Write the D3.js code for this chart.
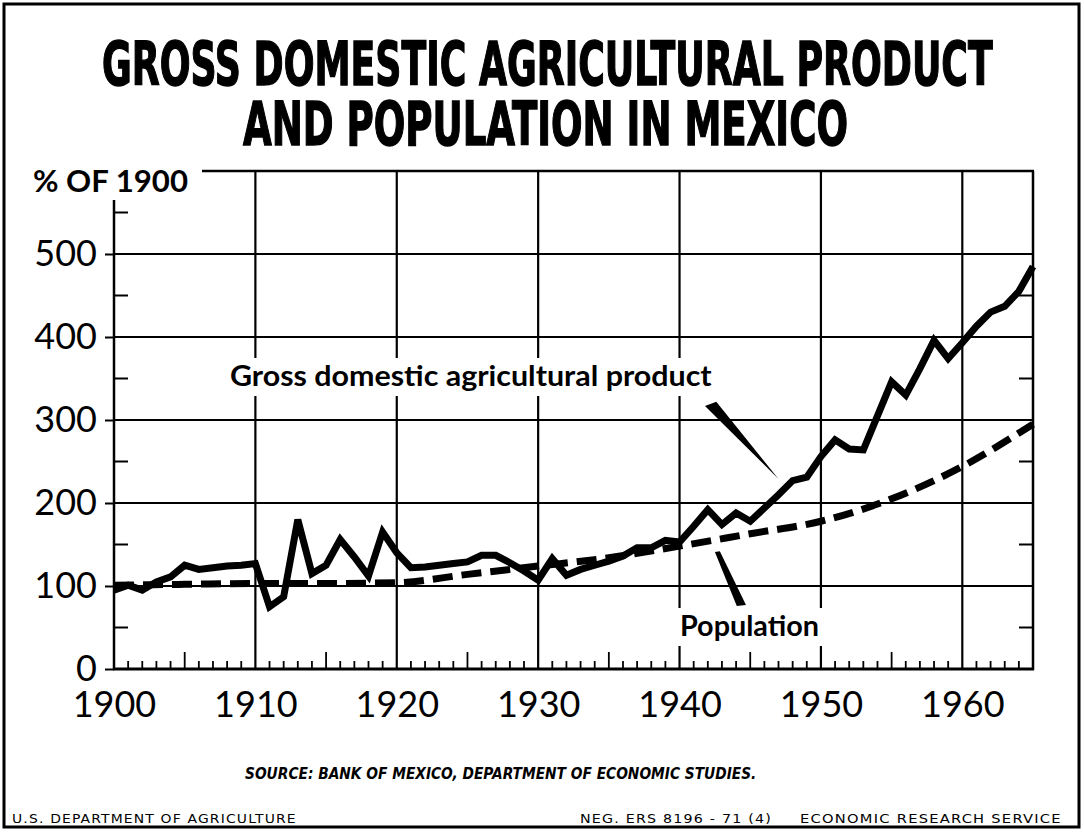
<!DOCTYPE html>
<html>
<head>
<meta charset="utf-8">
<script src="https://cdn.jsdelivr.net/npm/d3@7"></script>
<style>
  body { margin: 0; background: #fff; }
  svg { display: block; }
  text { fill: #000; }
</style>
</head>
<body>
<svg id="chart" width="1084" height="835"></svg>
<script>
// values, % of 1900
const gdpYears = d3.range(1900, 1966)
const gdp = [
  95, 101, 95, 105, 111, 125, 120, 122, 124, 125,
  127, 75, 87, 180, 115, 125, 156, 135, 112, 165,
  140, 122, 123, 125, 127, 129, 137, 137, 128, 118,
  107, 133, 113, 120, 125, 130, 136, 146, 146, 155,
  153, 172, 192, 174, 188, 178, 194, 210, 227, 231,
  256, 276, 265, 264, 305, 346, 330, 362, 396, 374,
  393, 413, 430, 437, 455, 485
]
const popYears = [1900, 1905, 1910, 1915, 1920, 1925, 1930, 1935, 1940, 1945, 1950, 1955, 1960, 1965]
const population = [101, 102, 103, 103, 104, 114, 124, 134, 148, 163, 178, 205, 244, 295]

const yTicks = [0, 100, 200, 300, 400, 500]
const yMinor = [50, 150, 250, 350, 450, 550]
const xTicks = [1900, 1910, 1920, 1930, 1940, 1950, 1960]

const svg = d3.select('#chart')
const width = 1084, height = 835
const font = 'Lato, "Open Sans", sans-serif'
const narrow = '"Liberation Sans Narrow", "DejaVu Sans Condensed", "Roboto Condensed", sans-serif'

const x = d3.scaleLinear().domain([1900, 1965]).range([114, 1033])
const y = d3.scaleLinear().domain([0, 600]).range([669, 171])

// squeeze a text to a given width by scaling it horizontally
function fitText(sel) {
  sel.each(function (d) {
    const len = this.getComputedTextLength()
    d3.select(this)
      .attr('x', 0).attr('y', 0)
      .attr('transform', `translate(${d.x},${d.base}) scale(${d.w / len},1)`)
  })
}

svg.append('rect').attr('width', width).attr('height', height).attr('fill', '#fff')

// outer frame
svg.append('rect')
  .attr('x', 4).attr('y', 4).attr('width', 1075).attr('height', 823)
  .attr('fill', 'none').attr('stroke', '#000').attr('stroke-width', 3)

// title
const title = [
  { t: 'GROSS DOMESTIC AGRICULTURAL PRODUCT', x: 102, w: 891, base: 85 },
  { t: 'AND POPULATION IN MEXICO', x: 243, w: 605, base: 145 }
]
svg.selectAll('.title').data(title).enter().append('text')
  .attr('class', 'title')
  .style('font-family', narrow)
  .style('font-weight', 'bold').style('font-size', '61px')
  .attr('stroke', '#000').attr('stroke-width', 1.4)
  .text(d => d.t)
  .call(fitText)

const grid = svg.append('g').attr('stroke', '#000')

// horizontal grid
grid.selectAll('.hg').data(yTicks.slice(1)).enter().append('line')
  .attr('x1', x(1900)).attr('x2', x(1965))
  .attr('y1', d => y(d)).attr('y2', d => y(d))
  .attr('stroke-width', 2.2)

// vertical grid
grid.selectAll('.vg').data(xTicks.slice(1)).enter().append('line')
  .attr('x1', d => x(d)).attr('x2', d => x(d))
  .attr('y1', y(600)).attr('y2', y(0))
  .attr('stroke-width', 2.2)

// frame of plot
grid.append('line').attr('x1', x(1900)).attr('x2', x(1900)).attr('y1', 200).attr('y2', y(0) + 1).attr('stroke-width', 2.5)
grid.append('line').attr('x1', x(1965)).attr('x2', x(1965)).attr('y1', y(600)).attr('y2', y(0) + 1).attr('stroke-width', 2.5)
grid.append('line').attr('x1', 202).attr('x2', x(1965) + 1).attr('y1', y(600)).attr('y2', y(600)).attr('stroke-width', 2.5)
grid.append('line').attr('x1', x(1900) - 1).attr('x2', x(1965) + 1).attr('y1', y(0)).attr('y2', y(0)).attr('stroke-width', 2.8)

// minor y ticks on both sides
grid.selectAll('.ml').data(yMinor).enter().append('line')
  .attr('x1', x(1900)).attr('x2', x(1900) + 14)
  .attr('y1', d => y(d)).attr('y2', d => y(d)).attr('stroke-width', 2)
grid.selectAll('.mr').data(yMinor.slice(0, 5)).enter().append('line')
  .attr('x1', x(1965) - 14).attr('x2', x(1965))
  .attr('y1', d => y(d)).attr('y2', d => y(d)).attr('stroke-width', 2)

// year ticks along the bottom
const yearTicks = gdpYears.filter(v => v % 10 !== 0)
grid.selectAll('.yt').data(yearTicks).enter().append('line')
  .attr('x1', d => x(d)).attr('x2', d => x(d))
  .attr('y1', y(0)).attr('y2', d => y(0) - (d % 5 === 0 ? 17 : 8))
  .attr('stroke-width', 1.8)

// axes (labels)
const yAxis = svg.append('g')
  .attr('transform', `translate(${x(1900)},0)`)
  .call(d3.axisLeft(y).tickValues(yTicks).tickSize(9).tickPadding(8).tickFormat(d3.format('d')))
yAxis.select('.domain').remove()
yAxis.selectAll('line').attr('stroke', '#000').attr('stroke-width', 2)
yAxis.selectAll('text')
  .style('font-family', font).style('font-size', '36px').attr('fill', '#000')

const xAxis = svg.append('g')
  .attr('transform', `translate(0,${y(0)})`)
  .call(d3.axisBottom(x).tickValues(xTicks).tickSize(0).tickPadding(22).tickFormat(d3.format('d')))
xAxis.select('.domain').remove()
xAxis.selectAll('text')
  .style('font-family', font).style('font-size', '36px').attr('fill', '#000')

// "% OF 1900"
svg.append('text')
  .datum({ x: 33, base: 192, w: 155 })
  .style('font-family', font).style('font-weight', 'bold').style('font-size', '30px')
  .text('% OF 1900')
  .call(fitText)

// series labels with white knock-out behind them
const labels = [
  { t: 'Gross domestic agricultural product', x: 230, base: 386, w: 482 },
  { t: 'Population', x: 680, base: 636, w: 139 }
]
const lab = svg.selectAll('.lab').data(labels).enter().append('g')
lab.append('rect')
  .attr('x', d => d.x - 4).attr('y', d => d.base - 28)
  .attr('width', d => d.w + 8).attr('height', 38)
  .attr('fill', '#fff')
lab.append('text')
  .style('font-family', font).style('font-weight', 'bold').style('font-size', '28px')
  .text(d => d.t)
  .call(fitText)

// pointer wedges, in data units
const pointers = [
  [[1941.8, 317], [1942.6, 322], [1947.0, 229]],
  [[1942.5, 141], [1942.85, 142], [1944.7, 77], [1944.05, 76]]
]
svg.selectAll('.ptr').data(pointers).enter().append('path')
  .attr('d', d => 'M' + d.map(p => [x(p[0]), y(p[1])].join(',')).join('L') + 'Z')
  .attr('fill', '#000')

// lines
svg.append('path')
  .datum(popYears.map((yr, i) => [yr, population[i]]))
  .attr('d', d3.line().x(d => x(d[0])).y(d => y(d[1])).curve(d3.curveMonotoneX))
  .attr('fill', 'none').attr('stroke', '#000')
  .attr('stroke-width', 7).attr('stroke-dasharray', '20,9')

svg.append('path')
  .datum(gdpYears.map((yr, i) => [yr, gdp[i]]))
  .attr('d', d3.line().x(d => x(d[0])).y(d => y(d[1])))
  .attr('fill', 'none').attr('stroke', '#000')
  .attr('stroke-width', 7).attr('stroke-linejoin', 'miter')

// source and footer
svg.append('text')
  .datum({ x: 245, base: 779, w: 512 })
  .style('font-family', narrow)
  .style('font-weight', 'bold').style('font-style', 'italic').style('font-size', '15px')
  .text('SOURCE: BANK OF MEXICO, DEPARTMENT OF ECONOMIC STUDIES.')
  .call(fitText)

const footer = [
  { t: 'U.S. DEPARTMENT OF AGRICULTURE', x: 12, w: 285, base: 823 },
  { t: 'NEG. ERS 8196 - 71 (4)', x: 580, w: 192, base: 823 },
  { t: 'ECONOMIC RESEARCH SERVICE', x: 800, w: 262, base: 823 }
]
svg.selectAll('.foot').data(footer).enter().append('text')
  .style('font-family', narrow)
  .style('font-size', '13px').attr('letter-spacing', 1)
  .text(d => d.t)
  .call(fitText)
</script>
</body>
</html>
